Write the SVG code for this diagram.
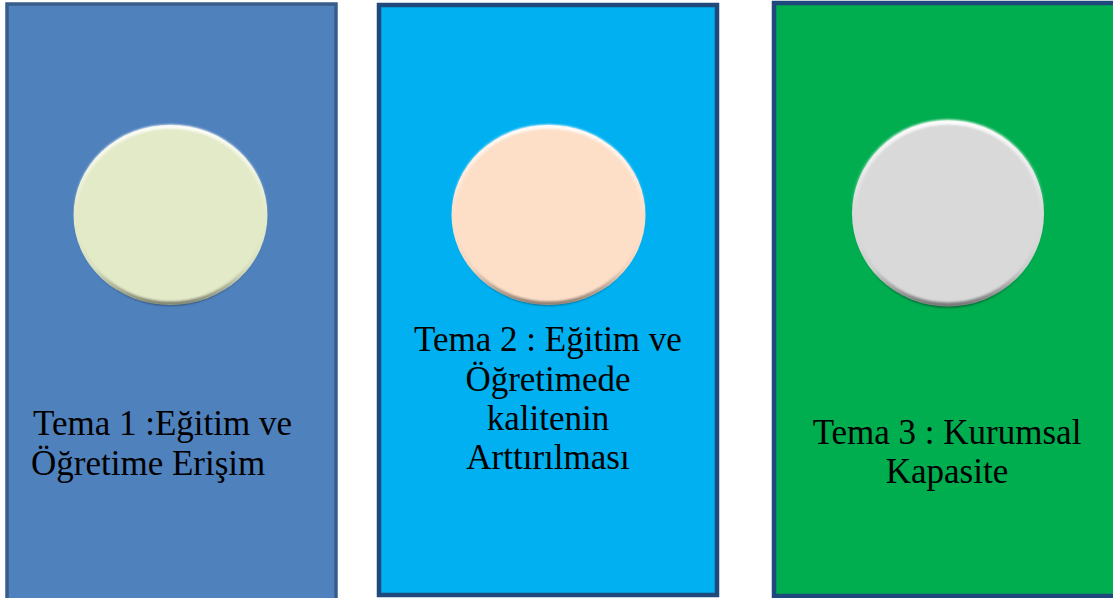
<svg xmlns="http://www.w3.org/2000/svg" width="1113" height="598" viewBox="0 0 1113 598">
<defs>
<style>
.lbl{font-family:"Liberation Serif","Times New Roman",serif;font-size:35px;fill:#000}
.c{text-anchor:middle}
</style>
<linearGradient id="rim" x1="0" y1="0" x2="0" y2="1">
<stop offset="0" stop-color="#ffffff" stop-opacity="0.95"/>
<stop offset="0.5" stop-color="#ffffff" stop-opacity="0"/>
<stop offset="0.8" stop-color="#000000" stop-opacity="0.05"/>
<stop offset="1" stop-color="#000000" stop-opacity="0.45"/>
</linearGradient>
<filter id="soft" x="-10%" y="-10%" width="120%" height="120%">
<feGaussianBlur stdDeviation="1.2"/>
</filter>
</defs>
<rect width="1113" height="598" fill="#ffffff"/>
<g id="node1">
<rect x="7" y="4" width="329" height="597" fill="#4f81bd" stroke="#385d8a" stroke-width="3.5"/>
<ellipse cx="170.5" cy="215" rx="97" ry="90" fill="#e3eac8"/>
<ellipse cx="170.5" cy="215" rx="95.5" ry="88.5" fill="none" stroke="url(#rim)" stroke-width="4" filter="url(#soft)"/>
<text class="lbl" x="33" y="435">Tema 1 :Eğitim ve</text>
<text class="lbl" x="31" y="475">Öğretime Erişim</text>
</g>
<g id="node2">
<rect x="379" y="5" width="338" height="590" fill="#00b0f0" stroke="#1f497d" stroke-width="4.5"/>
<ellipse cx="548.5" cy="215" rx="97" ry="90" fill="#fddfc8"/>
<ellipse cx="548.5" cy="215" rx="95.5" ry="88.5" fill="none" stroke="url(#rim)" stroke-width="4" filter="url(#soft)"/>
<text class="lbl c" x="548" y="351">Tema 2 : Eğitim ve</text>
<text class="lbl c" x="548" y="391">Öğretimede</text>
<text class="lbl c" x="548" y="430">kalitenin</text>
<text class="lbl c" x="548" y="469">Arttırılması</text>
</g>
<g id="node3">
<rect x="774" y="3" width="345" height="593" fill="#00ad4f" stroke="#1f497d" stroke-width="4.5"/>
<ellipse cx="948" cy="213.5" rx="96" ry="93" fill="#d9d9d9"/>
<ellipse cx="948" cy="213.5" rx="94.5" ry="91.5" fill="none" stroke="url(#rim)" stroke-width="5" filter="url(#soft)"/>
<text class="lbl c" x="947" y="444">Tema 3 : Kurumsal</text>
<text class="lbl c" x="947" y="483">Kapasite</text>
</g>
<g id="connectors"/>
</svg>
